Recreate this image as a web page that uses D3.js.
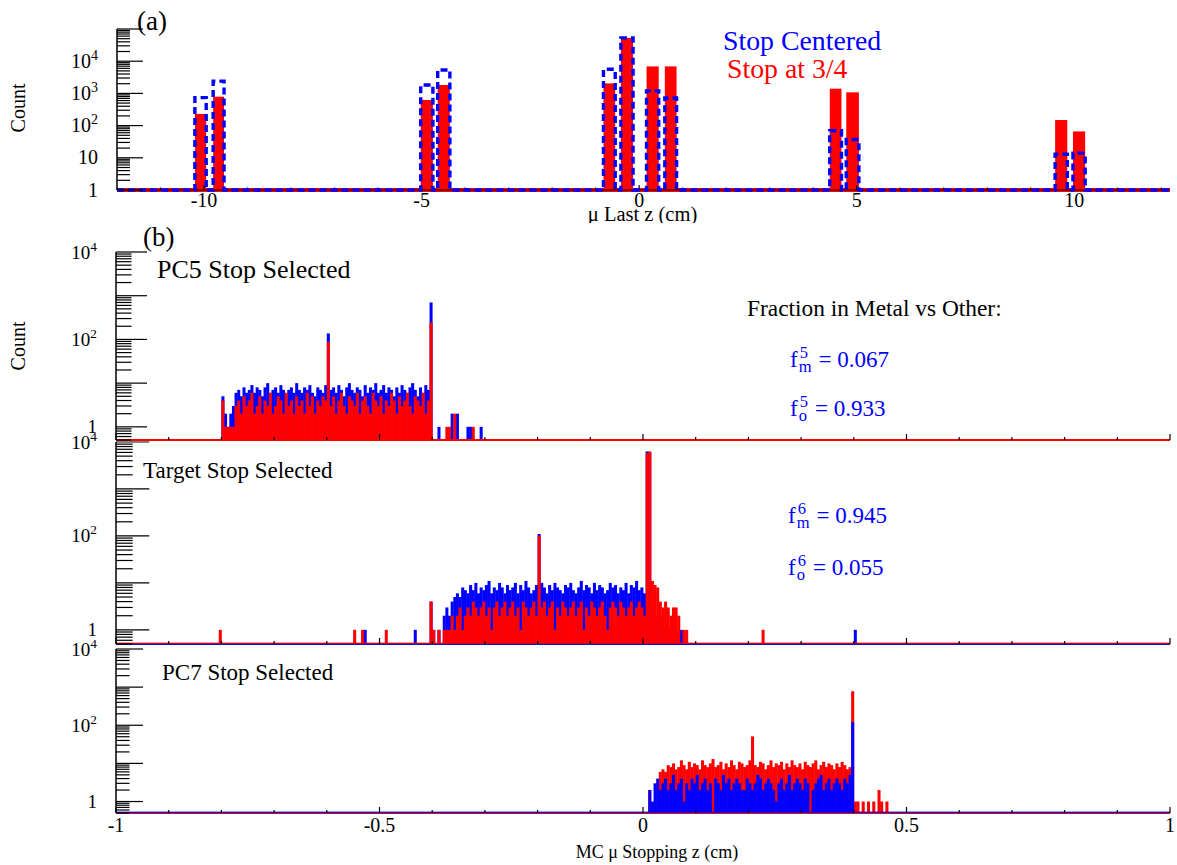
<!DOCTYPE html>
<html><head><meta charset="utf-8">
<script src="https://cdn.jsdelivr.net/npm/d3@7"></script>
<style>
body{margin:0;background:#fff}
svg{display:block}
text{font-family:"Liberation Serif","Times New Roman",serif}
</style>
</head><body>
<script>
// ---------------- Panel (a) data : muon last z (cm) ----------------
const aBinLo = [-10.21, -9.79, -5.02, -4.63, -0.82, -0.42, 0.17, 0.59, 4.38, 4.76, 9.56, 9.97];
const aBinHi = [-9.95, -9.54, -4.74, -4.35, -0.55, -0.14, 0.45, 0.86, 4.65, 5.05, 9.84, 10.25];
const aRed   = [230, 790, 625, 1820, 2050, 53000, 6900, 6900, 1400, 1080, 149, 66];
const aBlue  = [740, 2400, 1820, 5350, 5600, 53000, 1200, 720, 69, 37, 13, 14];
const aXTicks = [-10, -5, 0, 5, 10];
const aYLabels = [[1, "1", ""], [10, "10", ""], [100, "10", "2"], [1000, "10", "3"], [10000, "10", "4"]];

// ---------------- Panel (b) data : MC muon stopping z (cm) ----------------
const BIN = 0.005;
// PC5 stop selected, bins starting at -0.800
const pc5Start = -0.8;
const pc5Blue = [
  5,2,1,2,3,6,7,5,8,6,
  7,9,6,8,7,5,8,10,6,7,
  8,6,9,7,5,7,8,6,10,7,
  6,8,7,9,6,5,8,7,6,9,
  137,7,8,6,9,7,5,8,10,7,
  6,8,7,5,9,6,8,7,10,6,
  7,9,6,8,7,5,8,6,9,7,
  6,8,10,7,5,8,6,9,7,700,
  0,0,1,0,0,0,0,2,0,2,
  0,0,0,1,1,0,0,0,1,0];
const pc5Red = [
  4,1,1,1,1,3,4,2,5,3,
  4,6,2,3,5,2,4,3,6,2,
  3,5,4,2,6,3,4,2,5,3,
  4,2,6,3,5,2,4,3,5,4,
  88,3,5,2,4,6,3,2,5,4,
  3,6,2,4,5,3,2,6,4,3,
  5,2,4,3,6,4,2,5,3,4,
  6,3,2,5,4,3,6,2,4,245,
  0,0,0,0,0,1,1,0,2,0,
  0,0,0,0,0,1,0,0,0,0];
// Target stop selected, bins starting at -0.405
const tgtStart = -0.405;
const tgtBlue = [
  4,1,0,1,0,2,3,2,4,5,
  6,5,8,7,6,9,7,10,6,8,
  7,9,11,6,8,7,10,8,6,9,
  7,8,10,6,9,7,11,8,6,7,
  9,110,10,8,6,9,7,10,8,7,
  6,9,8,10,7,6,8,11,7,9,
  8,6,10,7,9,8,6,7,10,8,
  9,6,8,7,10,6,9,8,11,7,
  8,6,6300,6000,3,2,2,1,2,1,
  1,1,0,1,0];
const tgtRed = [
  4,1,0,1,0,1,1,1,2,1,
  2,3,1,2,3,2,4,3,2,3,
  4,2,3,1,3,4,2,3,4,2,
  3,4,2,3,1,4,3,2,3,4,
  2,101,3,4,2,3,4,1,3,2,
  4,3,2,3,4,2,3,4,1,3,
  2,4,3,2,3,4,2,1,3,4,
  3,2,4,3,2,3,4,2,3,4,
  3,2,5800,6300,11,9,8,4,3,4,
  3,2,3,3,2];
const tgtBlueSingles = [[-0.53, 1], [-0.435, 1], [0.07, 1], [0.4, 1]];
const tgtRedSingles  = [[-0.805, 1], [-0.55, 1], [-0.535, 1], [-0.49, 1], [0.075, 1], [0.08, 1], [0.225, 1]];
// PC7 stop selected, bins starting at 0.005
const pc7Start = 0.005;
const pc7Blue = [
  0,2,1,3,4,2,3,4,2,3,
  5,2,3,4,1,3,2,4,3,5,
  2,3,4,2,3,0,4,3,2,5,
  3,4,2,3,4,3,2,2,4,3,
  2,3,5,4,2,3,4,3,2,1,
  3,4,2,3,5,2,3,4,3,2,
  4,3,0,2,3,4,5,2,3,4,
  2,3,4,3,2,4,3,5,121,0];
const pc7Red = [
  0,2,0,0,3,6,7,6,9,8,
  10,7,8,12,9,7,11,8,10,9,
  7,12,9,8,10,13,8,9,11,7,
  10,8,12,9,7,11,10,8,9,12,
  51,9,8,11,10,7,9,12,8,10,
  9,11,7,10,8,12,9,8,10,7,
  11,9,8,10,12,7,9,11,8,10,
  9,7,10,8,11,9,7,8,780,1,
  1,0,1,0,1,0,1,0,2,1,
  0,1];
const bXTicks = [-1, -0.5, 0, 0.5, 1];
const bXTickLabels = ["-1", "-0.5", "0", "0.5", "1"];
const bYLabels = [[1, "1", ""], [100, "10", "2"], [10000, "10", "4"]];
const fractions = [
  {sup: "5", sub: "m", val: "0.067"}, {sup: "5", sub: "o", val: "0.933"},
  {sup: "6", sub: "m", val: "0.945"}, {sup: "6", sub: "o", val: "0.055"}];

// ---------------- drawing ----------------
const W = 1177, H = 865;
const BLUE = "#0000ff", RED = "#ff0000";
const svg = d3.select("body").append("svg").attr("width", W).attr("height", H);

function logAxis(g, y, ax, tickLen, labels, labelRight, fs) {
  const [d0, d1] = y.domain();
  const [r0, r1] = y.range();
  const minors = [], majors = [];
  for (let n = Math.floor(Math.log10(d0)); n <= Math.ceil(Math.log10(d1)); n++) {
    const p = Math.pow(10, n);
    if (p >= d0 * 0.999 && p <= d1 * 1.001) majors.push(p);
    for (let m = 2; m <= 9; m++) { const v = m * p; if (v >= d0 * 0.999 && v <= d1 * 1.001) minors.push(v); }
  }
  g.append("line").attr("x1", ax).attr("x2", ax).attr("y1", r0).attr("y2", r1)
    .attr("stroke", "#000").attr("stroke-width", 1.5);
  g.selectAll(null).data(minors).join("line")
    .attr("x1", ax).attr("x2", ax + tickLen / 2).attr("y1", d => y(d)).attr("y2", d => y(d))
    .attr("stroke", "#000").attr("stroke-width", 1.2);
  g.selectAll(null).data(majors).join("line")
    .attr("x1", ax).attr("x2", ax + tickLen).attr("y1", d => y(d)).attr("y2", d => y(d))
    .attr("stroke", "#000").attr("stroke-width", 1.2);
  const t = g.selectAll(null).data(labels).join("text")
    .attr("x", labelRight).attr("y", d => y(d[0]) + 6.5).attr("text-anchor", "end")
    .attr("font-size", fs).attr("fill", "#000");
  t.append("tspan").text(d => d[1]);
  t.filter(d => d[2]).append("tspan").attr("dy", -8).attr("font-size", fs * 0.7).text(d => d[2]);
}

function xAxisTicks(g, x, yPos, minorVals, majorVals, lenMin, lenMaj) {
  g.selectAll(null).data(minorVals).join("line")
    .attr("x1", d => x(d)).attr("x2", d => x(d)).attr("y1", yPos).attr("y2", yPos - lenMin)
    .attr("stroke", "#000").attr("stroke-width", 1.2);
  g.selectAll(null).data(majorVals).join("line")
    .attr("x1", d => x(d)).attr("x2", d => x(d)).attr("y1", yPos).attr("y2", yPos - lenMaj)
    .attr("stroke", "#000").attr("stroke-width", 1.2);
}

// ===== Panel (a) =====
const xA = d3.scaleLinear().domain([-12, 12.2]).range([117, 1170]);
const yA = d3.scaleLog().domain([1, 1e5]).range([190, 29]);
const gA = svg.append("g");
const aBars = aRed.map((v, i) => ({lo: aBinLo[i], hi: aBinHi[i], red: v, blue: aBlue[i]}));
gA.selectAll(null).data(aBars).join("rect")
  .attr("x", d => xA(d.lo)).attr("width", d => xA(d.hi) - xA(d.lo))
  .attr("y", d => yA(d.red)).attr("height", d => yA(1) - yA(d.red)).attr("fill", RED);
gA.append("line").attr("x1", xA(-12)).attr("x2", xA(12.2)).attr("y1", yA(1)).attr("y2", yA(1))
  .attr("stroke", RED).attr("stroke-width", 4);
gA.append("line").attr("x1", xA(-12)).attr("x2", xA(12.2)).attr("y1", yA(1)).attr("y2", yA(1))
  .attr("stroke", "#000").attr("stroke-width", 1);
const intTicks = d3.range(-12, 13, 1).filter(v => v % 5 !== 0);
xAxisTicks(gA, xA, yA(1), intTicks, aXTicks, 2.5, 5);
// blue dashed step outline
const bp = d3.path();
bp.moveTo(xA(-12), yA(1));
aBars.forEach(d => { bp.lineTo(xA(d.lo), yA(1)); bp.lineTo(xA(d.lo), yA(d.blue)); bp.lineTo(xA(d.hi), yA(d.blue)); bp.lineTo(xA(d.hi), yA(1)); });
bp.lineTo(xA(12.2), yA(1));
gA.append("path").attr("d", bp.toString()).attr("fill", "none").attr("stroke", BLUE)
  .attr("stroke-width", 3.4).attr("stroke-dasharray", "7,4");
logAxis(gA, yA, 117, 26, aYLabels, 98, 20);
gA.selectAll(null).data(aXTicks).join("text")
  .attr("x", d => xA(d)).attr("y", 207).attr("text-anchor", "middle").attr("font-size", 20)
  .text(d => d === 0 ? "0" : String(d));
svg.append("defs").append("clipPath").attr("id", "clipA").append("rect")
  .attr("x", 0).attr("y", 0).attr("width", W).attr("height", 223);
svg.append("text").attr("clip-path", "url(#clipA)").attr("x", 642.5).attr("y", 221)
  .attr("text-anchor", "middle").attr("font-size", 20.5).text("\u03bc Last z (cm)");
svg.append("text").attr("x", 137).attr("y", 30).attr("font-size", 27).text("(a)");
svg.append("text").attr("transform", "translate(25,108) rotate(-90)").attr("text-anchor", "middle")
  .attr("font-size", 20).text("Count");
svg.append("text").attr("x", 723).attr("y", 50).attr("font-size", 27.8).attr("fill", BLUE).text("Stop Centered");
svg.append("text").attr("x", 727).attr("y", 78).attr("font-size", 27.8).attr("fill", RED).text("Stop at 3/4");

// ===== Panel (b) =====
const xB = d3.scaleLinear().domain([-1, 1]).range([116, 1170]);
const subplots = [
  {top: 252, bottom: 440, blue: pc5Blue, red: pc5Red, start: pc5Start, bs: [], rs: [], redOnTop: true, base: [RED]},
  {top: 442, bottom: 644, blue: tgtBlue, red: tgtRed, start: tgtStart, bs: tgtBlueSingles, rs: tgtRedSingles, redOnTop: true, base: [BLUE, RED]},
  {top: 649, bottom: 813, blue: pc7Blue, red: pc7Red, start: pc7Start, bs: [], rs: [], redOnTop: false, base: [RED, BLUE]}
];
const minor01 = d3.range(-10, 11, 1).map(v => v / 10).filter(v => Math.abs(v * 2 - Math.round(v * 2)) > 1e-6);

subplots.forEach((sp, k) => {
  const y = d3.scaleLog().domain([0.5, 1e4]).range([sp.bottom, sp.top]);
  const g = svg.append("g");
  function hist(arr, start, singles, color) {
    const pts = arr.map((c, i) => ({x: start + i * BIN, c})).concat(singles.map(s => ({x: s[0], c: s[1]})))
      .filter(d => d.c > 0);
    g.selectAll(null).data(pts).join("rect")
      .attr("x", d => xB(d.x)).attr("width", d => xB(d.x + BIN) - xB(d.x) + 0.4)
      .attr("y", d => y(d.c)).attr("height", d => y(0.5) - y(d.c)).attr("fill", color);
  }
  const h = sp.bottom - sp.top;
  g.append("line").attr("x1", xB(-1)).attr("x2", xB(1)).attr("y1", sp.bottom).attr("y2", sp.bottom)
    .attr("stroke", "#000").attr("stroke-width", 1.5);
  if (sp.redOnTop) { hist(sp.blue, sp.start, sp.bs, BLUE); hist(sp.red, sp.start, sp.rs, RED); }
  else { hist(sp.red, sp.start, sp.rs, RED); hist(sp.blue, sp.start, sp.bs, BLUE); }
  sp.base.forEach((c, j) => {
    g.append("line").attr("x1", xB(-1)).attr("x2", xB(1)).attr("y1", sp.bottom - j * 0.8).attr("y2", sp.bottom - j * 0.8)
      .attr("stroke", c).attr("stroke-width", sp.base.length > 1 ? 1.6 : 2.2).attr("opacity", j === 0 ? 1 : 0.75);
  });
  xAxisTicks(g, xB, sp.bottom, minor01, bXTicks, 3, 6);
  logAxis(g, y, 116, 0.165 * h, bYLabels, 97, 19);
});
svg.selectAll(null).data(bXTicks).join("text")
  .attr("x", (d) => xB(d)).attr("y", 832).attr("text-anchor", "middle").attr("font-size", 20)
  .text((d, i) => bXTickLabels[i]);
svg.append("text").attr("x", 657).attr("y", 858).attr("text-anchor", "middle").attr("font-size", 18)
  .text("MC \u03bc Stopping z (cm)");
svg.append("text").attr("transform", "translate(25,346) rotate(-90)").attr("text-anchor", "middle")
  .attr("font-size", 20).text("Count");
svg.append("text").attr("x", 143).attr("y", 246).attr("font-size", 27).text("(b)");
svg.append("text").attr("x", 157).attr("y", 278).attr("font-size", 26).text("PC5 Stop Selected");
svg.append("text").attr("x", 143).attr("y", 478).attr("font-size", 23).text("Target Stop Selected");
svg.append("text").attr("x", 162).attr("y", 680).attr("font-size", 23).text("PC7 Stop Selected");
svg.append("text").attr("x", 747).attr("y", 316).attr("font-size", 23.4).text("Fraction in Metal vs Other:");

const fracPos = [[790, 367], [790, 416], [788, 523], [788, 575]];
fractions.forEach((f, i) => {
  const [x, yb] = fracPos[i];
  const g = svg.append("g").attr("fill", BLUE);
  const t = g.append("text").attr("x", x).attr("y", yb).attr("font-size", 23).text("f");
  const fw = t.node().getComputedTextLength();
  const s1 = g.append("text").attr("x", x + fw + 2).attr("y", yb - 9).attr("font-size", 16.5).text(f.sup);
  const s2 = g.append("text").attr("x", x + fw + 1).attr("y", yb + 5).attr("font-size", 16.5).text(f.sub);
  const w = Math.max(s1.node().getComputedTextLength() + 1, s2.node().getComputedTextLength());
  g.append("text").attr("x", x + fw + w + 8).attr("y", yb).attr("font-size", 23).text("= " + f.val);
});
</script>
</body></html>
